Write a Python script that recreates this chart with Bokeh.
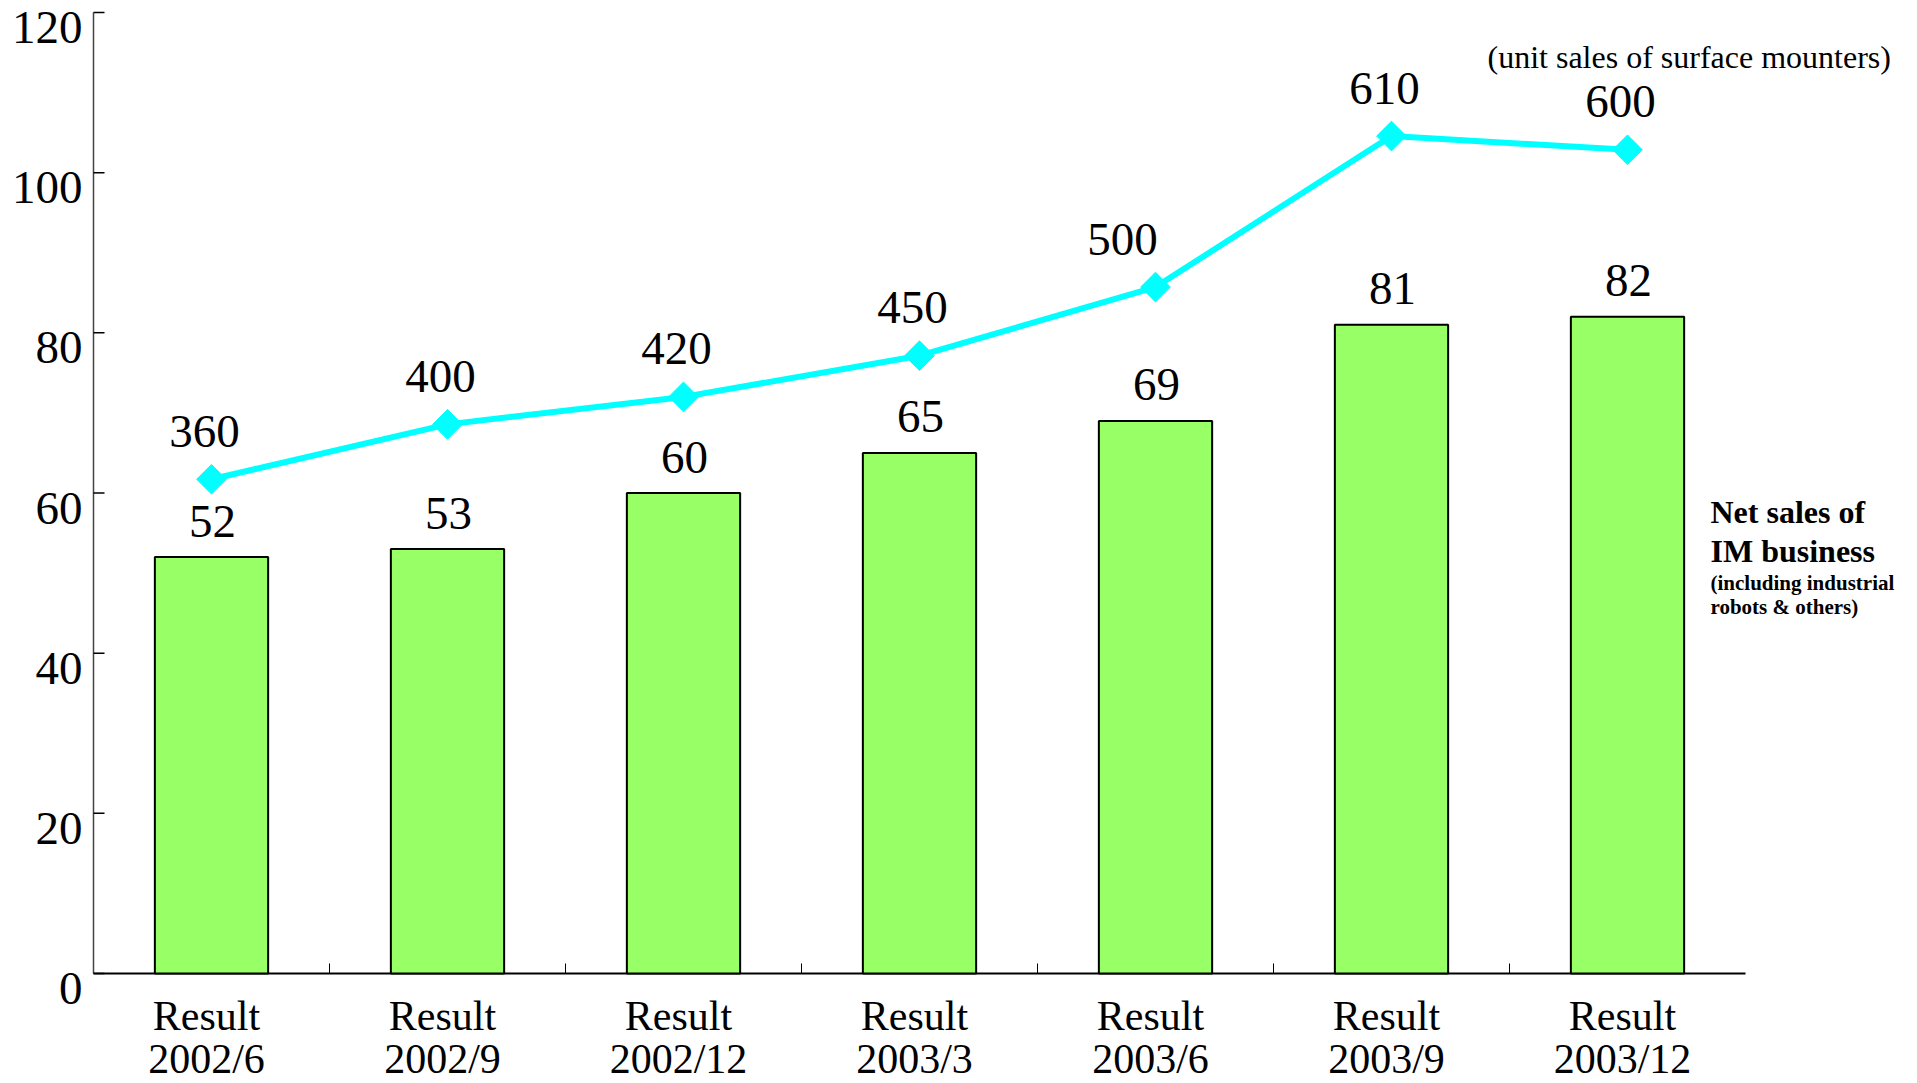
from bokeh.plotting import figure
from bokeh.models import ColumnDataSource, LabelSet, Label, Range1d
from bokeh.embed import file_html
from bokeh.resources import INLINE

# ---- data ----
periods = ["2002/6", "2002/9", "2002/12", "2003/3", "2003/6", "2003/9", "2003/12"]
row_label = "Result"
net_sales = [52, 53, 60, 65, 69, 81, 82]           # Net sales of IM business (left axis)
unit_sales = [360, 400, 420, 450, 500, 610, 600]   # unit sales of surface mounters
y_ticks = [0, 20, 40, 60, 80, 100, 120]
y_max = 120
units_max = 700

FONT = "Liberation Serif"
BAR_COLOR = "#99FF66"
LINE_COLOR = "#00FFFF"

# ---- layout (pixels) ----
W, H = 1917, 1083
X0_PX = 93          # left edge of the axis (category -0.5)
CAT_PX = 236        # pixels per category
Y0_PX = 973         # baseline (value 0)
Y_PX = 961 / y_max  # pixels per unit on the left scale

n = len(periods)
x = list(range(n))

x_start = -0.5 - X0_PX / CAT_PX
x_end = x_start + W / CAT_PX
y_end = Y0_PX / Y_PX
y_start = -(H - Y0_PX) / Y_PX
k = units_max / y_max

p = figure(width=W, height=H, output_backend="svg", toolbar_location=None,
           x_range=Range1d(x_start, x_end), y_range=Range1d(y_start, y_end),
           min_border=0, min_border_left=0, min_border_right=0,
           min_border_top=0, min_border_bottom=0)
p.extra_y_ranges = {"units": Range1d(y_start * k, y_end * k)}
p.xaxis.visible = False
p.yaxis.visible = False
p.outline_line_color = None
p.xgrid.visible = False
p.ygrid.visible = False
p.background_fill_color = "white"
p.border_fill_color = "white"

# ---- axes drawn as glyphs ----
x_left, x_right = -0.5, n - 0.5
p.segment(x0=[x_left], y0=[0], x1=[x_left], y1=[y_max], line_color="#444444", line_width=1.5)
p.segment(x0=[x_left], y0=[0], x1=[x_right], y1=[0], line_color="black", line_width=2)
ytick_len = 11 / CAT_PX
p.segment(x0=[x_left] * len(y_ticks), y0=y_ticks, x1=[x_left + ytick_len] * len(y_ticks), y1=y_ticks,
          line_color="black", line_width=1.5)
sep = [i + 0.5 for i in x[:-1]]
xtick_len = 10 / Y_PX
p.segment(x0=sep, y0=[0] * len(sep), x1=sep, y1=[xtick_len] * len(sep),
          line_color="black", line_width=1)

# ---- bars ----
bar_src = ColumnDataSource(dict(x=x, net=net_sales, txt=[str(v) for v in net_sales]))
p.vbar(x="x", top="net", bottom=0, width=0.48, source=bar_src,
       fill_color=BAR_COLOR, line_color="black", line_width=2)

# ---- line on secondary scale ----
lab_off = [-7] * n
lab_off[4] = -33
line_src = ColumnDataSource(dict(x=x, u=unit_sales, txt=[str(v) for v in unit_sales], off=lab_off))
p.line(x="x", y="u", source=line_src, y_range_name="units", line_color=LINE_COLOR, line_width=6)
p.scatter(x="x", y="u", source=line_src, y_range_name="units", marker="square",
          angle=0.785398, size=21, fill_color=LINE_COLOR, line_color=LINE_COLOR)

p.add_layout(LabelSet(x="x", y="net", text="txt", source=bar_src, y_offset=36, x_offset=1,
                      text_align="center", text_baseline="middle",
                      text_font=FONT, text_font_size="47px", text_color="black"))
p.add_layout(LabelSet(x="x", y="u", text="txt", source=line_src, y_range_name="units",
                      y_offset=48, x_offset="off",
                      text_align="center", text_baseline="middle",
                      text_font=FONT, text_font_size="47px", text_color="black"))

# ---- y tick labels ----
ytick_src = ColumnDataSource(dict(x=[x_left] * len(y_ticks), y=y_ticks, txt=[str(v) for v in y_ticks]))
p.add_layout(LabelSet(x="x", y="y", text="txt", source=ytick_src, x_offset=-11, y_offset=-15,
                      text_align="right", text_baseline="middle",
                      text_font=FONT, text_font_size="47px", text_color="black"))

# ---- x category labels (two lines) ----
xl_src = ColumnDataSource(dict(x=x, y=[0] * n, r=[row_label] * n, d=periods))
p.add_layout(LabelSet(x="x", y="y", text="r", source=xl_src, y_offset=-42, x_offset=-5,
                      text_align="center", text_baseline="middle",
                      text_font=FONT, text_font_size="42px", text_color="black"))
p.add_layout(LabelSet(x="x", y="y", text="d", source=xl_src, y_offset=-85, x_offset=-5,
                      text_align="center", text_baseline="middle",
                      text_font=FONT, text_font_size="42px", text_color="black"))

# ---- side annotations (placed from pixel positions) ----
def px_x(px):
    return x_start + px / CAT_PX

def px_y(py):
    return (Y0_PX - py) / Y_PX

p.add_layout(Label(x=px_x(1487), y=px_y(56), text="(unit sales of surface mounters)",
                   text_align="left", text_baseline="middle",
                   text_font=FONT, text_font_size="32px", text_color="black"))
for txt, py, fs in [("Net sales of", 511, "32px"), ("IM business", 550, "32px"),
                    ("(including industrial", 582, "21px"), ("robots & others)", 606, "21px")]:
    p.add_layout(Label(x=px_x(1710), y=px_y(py), text=txt, text_align="left", text_baseline="middle",
                       text_font=FONT, text_font_style="bold", text_font_size=fs,
                       text_color="black"))

open("out.html", "w").write(file_html(p, INLINE))
